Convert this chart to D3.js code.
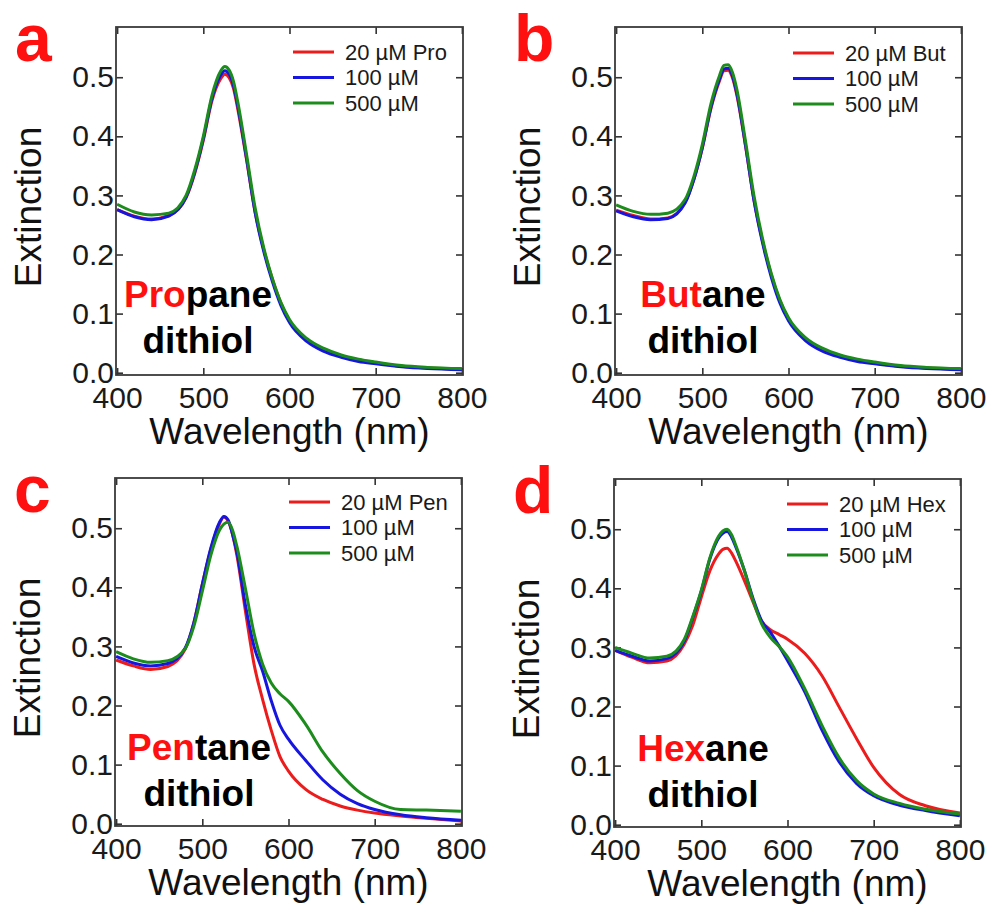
<!DOCTYPE html>
<html>
<head>
<meta charset="utf-8">
<script src="https://cdn.jsdelivr.net/npm/d3@7"></script>
<style>
  html, body { margin: 0; padding: 0; background: #fff; }
  svg { display: block; }
  text { font-family: "Liberation Sans", Arial, sans-serif; }
</style>
</head>
<body>
<svg id="chart" width="989" height="909"></svg>
<script>
// ---------------- DATA ----------------
const wavelengths = [400, 420, 440, 460, 480, 490, 500, 510, 520, 525, 530, 535, 540, 550, 560, 570, 580, 590, 600, 620, 640, 660, 680, 700, 730, 760, 800];

const seriesLabels = ["20 µM", "100 µM", "500 µM"];
const panelLetters = ["a", "b", "c", "d"];
const thiolPrefixes = ["Pro", "But", "Pen", "Hex"];
const thiolSuffixes = ["pane", "ane", "tane", "ane"];
const xTickValues = [400, 500, 600, 700, 800];
const yTickValues = [0.0, 0.1, 0.2, 0.3, 0.4, 0.5];

// Propanedithiol (a)
const pro20  = [0.276,0.265,0.260,0.266,0.296,0.337,0.393,0.460,0.497,0.505,0.499,0.481,0.446,0.362,0.273,0.209,0.159,0.118,0.088,0.056,0.039,0.028,0.022,0.017,0.011,0.008,0.006];
const pro100 = [0.276,0.264,0.259,0.265,0.297,0.339,0.396,0.464,0.503,0.511,0.505,0.486,0.451,0.364,0.272,0.206,0.155,0.114,0.085,0.053,0.036,0.026,0.019,0.015,0.010,0.007,0.005];
const pro500 = [0.285,0.272,0.267,0.270,0.300,0.343,0.400,0.469,0.510,0.518,0.512,0.493,0.458,0.371,0.280,0.212,0.160,0.119,0.090,0.058,0.041,0.030,0.023,0.018,0.012,0.009,0.007];

// Butanedithiol (b)
const but20  = [0.275,0.266,0.260,0.262,0.288,0.326,0.380,0.447,0.494,0.511,0.512,0.499,0.470,0.385,0.292,0.222,0.166,0.122,0.091,0.057,0.039,0.028,0.021,0.016,0.011,0.008,0.006];
const but100 = [0.274,0.264,0.259,0.261,0.287,0.326,0.381,0.449,0.497,0.514,0.515,0.502,0.473,0.386,0.291,0.219,0.162,0.118,0.088,0.054,0.036,0.026,0.019,0.015,0.010,0.007,0.005];
const but500 = [0.284,0.273,0.268,0.270,0.293,0.331,0.386,0.455,0.503,0.520,0.521,0.508,0.480,0.393,0.299,0.226,0.168,0.124,0.093,0.059,0.041,0.030,0.023,0.018,0.012,0.009,0.007];

// Pentanedithiol (c)
const pen20  = [0.277,0.267,0.261,0.266,0.295,0.339,0.405,0.465,0.508,0.519,0.512,0.490,0.455,0.360,0.270,0.210,0.158,0.114,0.089,0.058,0.041,0.030,0.023,0.018,0.013,0.009,0.0045];
const pen100 = [0.283,0.272,0.267,0.271,0.297,0.339,0.405,0.467,0.510,0.520,0.514,0.490,0.460,0.370,0.300,0.258,0.208,0.167,0.143,0.107,0.074,0.050,0.034,0.024,0.015,0.010,0.006];
const pen500 = [0.291,0.279,0.273,0.276,0.296,0.333,0.393,0.455,0.497,0.507,0.510,0.497,0.470,0.398,0.322,0.270,0.238,0.220,0.207,0.168,0.121,0.085,0.056,0.038,0.024,0.023,0.021];

// Hexanedithiol (d)
const hex20  = [0.295,0.283,0.274,0.277,0.305,0.337,0.385,0.430,0.458,0.466,0.468,0.460,0.446,0.413,0.377,0.344,0.330,0.322,0.314,0.290,0.252,0.199,0.146,0.097,0.051,0.032,0.020];
const hex100 = [0.295,0.285,0.277,0.281,0.310,0.350,0.395,0.450,0.485,0.493,0.496,0.487,0.470,0.430,0.383,0.345,0.326,0.303,0.278,0.225,0.160,0.106,0.070,0.049,0.033,0.024,0.015];
const hex500 = [0.300,0.290,0.282,0.285,0.313,0.352,0.397,0.452,0.488,0.497,0.500,0.491,0.473,0.430,0.380,0.340,0.317,0.302,0.284,0.230,0.168,0.113,0.075,0.052,0.036,0.026,0.018];

const panelSeries = [
  [pro20, pro100, pro500],
  [but20, but100, but500],
  [pen20, pen100, pen500],
  [hex20, hex100, hex500]
];

// ---------------- LAYOUT / STYLE ----------------
const seriesColors = ["#ec1c1c", "#1616e0", "#1c8c1c"];
const W = 347, H = 348;
const layout = [
  { left: 116, top: 27,  annX: 82, annY: 280, legX: 177, legY: 25 },
  { left: 615, top: 27,  annX: 88, annY: 280, legX: 178, legY: 26 },
  { left: 115, top: 478, annX: 84, annY: 282, legX: 174, legY: 24 },
  { left: 614, top: 479, annX: 89, annY: 282, legX: 173, legY: 25 }
];

const svg = d3.select("#chart");
const x = d3.scaleLinear().domain([398.7, 801.3]).range([0, W]);
const y = d3.scaleLinear().domain([-0.0039, 0.585]).range([H, 0]);
const fontFam = '"Liberation Sans", Arial, sans-serif';

panelSeries.forEach((series, pi) => {
  const L = layout[pi];
  const g = svg.append("g").attr("transform", `translate(${L.left},${L.top})`);

  // axes (inward ticks)
  const axStyle = sel => {
    sel.select(".domain").remove();
    sel.selectAll(".tick line").attr("stroke", "#333").attr("stroke-width", 1.6);
    sel.selectAll(".tick text").attr("fill", "#1a1a1a").style("font-family", fontFam).style("font-size", "30px");
  };
  g.append("g").attr("transform", `translate(0,${H})`)
    .call(d3.axisBottom(x).tickValues(xTickValues).tickSize(-7).tickPadding(12).tickFormat(d3.format("d")))
    .call(axStyle);
  g.append("g")
    .call(d3.axisTop(x).tickValues(xTickValues).tickSize(-7).tickFormat(""))
    .call(axStyle);
  g.append("g")
    .call(d3.axisLeft(y).tickValues(yTickValues).tickSize(-7).tickPadding(2).tickFormat(d3.format(".1f")))
    .call(axStyle);
  g.append("g").attr("transform", `translate(${W},0)`)
    .call(d3.axisRight(y).tickValues(yTickValues).tickSize(-7).tickFormat(""))
    .call(axStyle);

  // frame
  g.append("rect").attr("x", 0).attr("y", 0).attr("width", W).attr("height", H)
    .attr("fill", "none").attr("stroke", "#3a3a3a").attr("stroke-width", 1.8);

  // curves
  const line = d3.line()
    .x((d, i) => x(wavelengths[i]))
    .y(d => y(d))
    .curve(d3.curveMonotoneX);
  series.forEach((vals, si) => {
    g.append("path").datum(vals)
      .attr("d", line)
      .attr("fill", "none")
      .attr("stroke", seriesColors[si])
      .attr("stroke-width", 3)
      .attr("stroke-linejoin", "round");
  });

  // legend
  series.forEach((vals, si) => {
    const ly = L.legY + si * 25.5;
    g.append("line").attr("x1", L.legX).attr("x2", L.legX + 41)
      .attr("y1", ly).attr("y2", ly)
      .attr("stroke", seriesColors[si]).attr("stroke-width", 3);
    g.append("text").attr("x", L.legX + 52).attr("y", ly).attr("dy", "0.36em")
      .style("font-size", "22px").attr("fill", "#1a1a1a")
      .text(si === 0 ? `${seriesLabels[si]} ${thiolPrefixes[pi]}` : seriesLabels[si]);
  });

  // annotation
  const ann = g.append("text").attr("x", L.annX).attr("y", L.annY)
    .attr("text-anchor", "middle").style("font-size", "37px").style("font-weight", "bold");
  ann.append("tspan").attr("fill", "#ff1010").text(thiolPrefixes[pi]);
  ann.append("tspan").attr("fill", "#000").text(thiolSuffixes[pi]);
  g.append("text").attr("x", L.annX).attr("y", L.annY + 46)
    .attr("text-anchor", "middle").style("font-size", "37px").style("font-weight", "bold")
    .attr("fill", "#000").text("dithiol");

  // axis titles
  g.append("text").attr("transform", `translate(-75,${H / 2 + 6}) rotate(-90)`)
    .attr("text-anchor", "middle").style("font-size", "37px").attr("fill", "#111")
    .text("Extinction");
  g.append("text").attr("x", W / 2).attr("y", H + 69)
    .attr("text-anchor", "middle").style("font-size", "37px").attr("fill", "#111")
    .text("Wavelength (nm)");

  // panel letter
  g.append("text").attr("x", -101).attr("y", 34)
    .style("font-size", "66px").style("font-weight", "bold").attr("fill", "#ff1010")
    .text(panelLetters[pi]);
});
</script>
</body>
</html>
